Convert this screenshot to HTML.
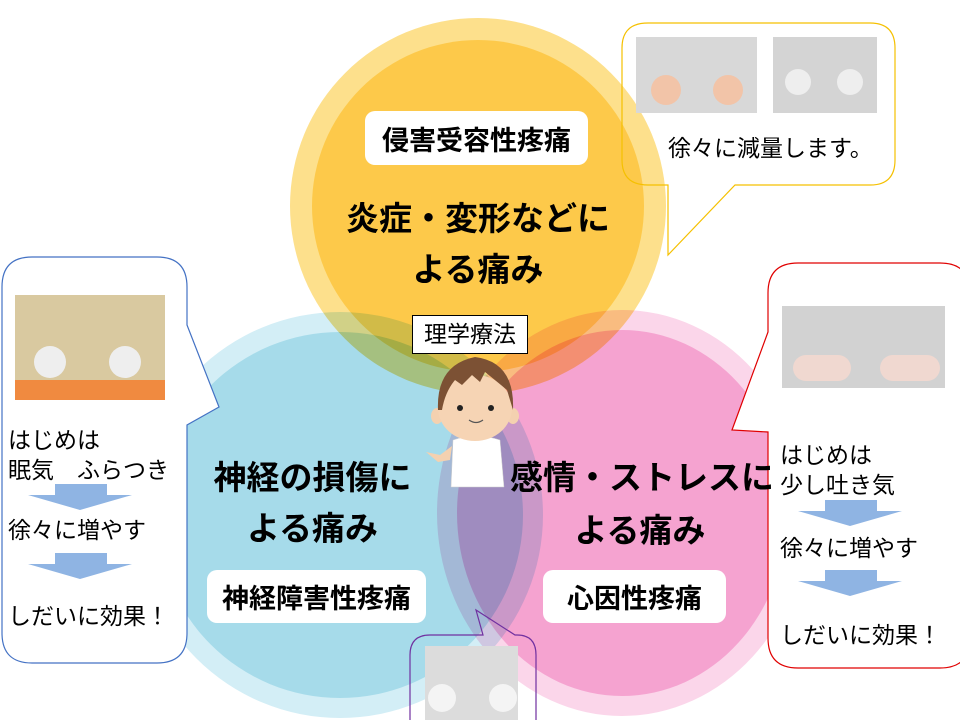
<!DOCTYPE html>
<html><head><meta charset="utf-8"><style>
html,body{margin:0;padding:0;background:#fff;width:960px;height:720px;overflow:hidden;position:relative;font-family:"Liberation Sans","Noto Sans CJK JP",sans-serif}
.t{position:absolute;white-space:nowrap;color:#000}
.b{font-weight:bold;font-family:"Liberation Sans","Noto Sans CJK JP",sans-serif}
.box{position:absolute;background:#fff;border-radius:10px;display:flex;align-items:center;justify-content:center;font-weight:bold;font-size:27px}
</style></head><body>
<svg width="960" height="720" style="position:absolute;left:0;top:0">
 <g style="mix-blend-mode:multiply"><circle cx="478" cy="206" r="188" fill="#fde08c"/><circle cx="478" cy="206" r="166" fill="#fdc94a"/></g>
 <g style="mix-blend-mode:multiply"><ellipse cx="340" cy="515" rx="203" ry="203" fill="#d3eef6"/><ellipse cx="340" cy="515" rx="183" ry="183" fill="#a6dbea"/></g>
 <g style="mix-blend-mode:multiply"><ellipse cx="622" cy="513" rx="185" ry="203" fill="#fbd6ea"/><ellipse cx="622" cy="513" rx="165" ry="183" fill="#f5a3d0"/></g>
 <path d="M648,23 H870 Q895,23 895,48 V160 Q895,185 870,185 H735 L668,255 V185 H648 Q622,185 622,160 V48 Q622,23 648,23Z" fill="none" stroke="#f5c000" stroke-width="1.2"/>
 <path d="M32,257 H157 Q187,257 187,287 V325 L219,407 L187,425 V633 Q187,663 157,663 H32 Q2,663 2,633 V287 Q2,257 32,257Z" fill="#fff" stroke="#4472c4" stroke-width="1.2"/>
 <path d="M798,263 H940 Q970,263 970,293 V638 Q970,668 940,668 H798 Q768,668 768,638 V432 L732,430 L768,332 V293 Q768,263 798,263Z" fill="#fff" stroke="#e00000" stroke-width="1.2"/>
 <path d="M430,635 H483 L476,610 L515,635 H517 Q536,635 536,655 V730 H410 V655 Q410,635 430,635Z" fill="none" stroke="#7030a0" stroke-width="1.2"/>
 <rect x="636" y="37" width="121" height="76" fill="#d8d8d8"/><circle cx="666" cy="90" r="15" fill="#f2c4a8"/><circle cx="728" cy="90" r="15" fill="#f2c4a8"/>
 <rect x="773" y="37" width="104" height="76" fill="#d4d4d4"/><circle cx="798" cy="82" r="13" fill="#eee"/><circle cx="850" cy="82" r="13" fill="#eee"/>
 <rect x="15" y="295" width="150" height="105" fill="#d9c9a0"/><rect x="15" y="380" width="150" height="20" fill="#f08a40"/><circle cx="50" cy="362" r="16" fill="#eee"/><circle cx="125" cy="362" r="16" fill="#eee"/>
 <rect x="782" y="306" width="163" height="82" fill="#d2d2d2"/><rect x="793" y="355" width="58" height="26" rx="13" fill="#f0d8d0"/><rect x="880" y="355" width="60" height="26" rx="13" fill="#f0d8d0"/>
 <rect x="425" y="646" width="93" height="74" fill="#dcdcdc"/><circle cx="442" cy="698" r="14" fill="#f4f4f4"/><circle cx="503" cy="698" r="14" fill="#f4f4f4"/>
 <g fill="#8fb4e3"><path d="M55,484 H107 V495 H132 L80,510 L28,495 H55Z"/><path d="M55,553 H107 V564 H132 L80,579 L28,564 H55Z"/>
 <path d="M825,500 H877 V511 H902 L850,526 L798,511 H825Z"/><path d="M825,570 H877 V581 H902 L850,596 L798,581 H825Z"/></g>
 <path d="M453,440 Q476,432 500,440 L504,487 H451Z" fill="#fff" stroke="#ccc" stroke-width="0.5"/>
 <path d="M426,452 L440,455 L452,446 L450,460 L438,462Z" fill="#f4d1b0"/>
 <ellipse cx="437" cy="416" rx="6" ry="8" fill="#f4d1b0"/><ellipse cx="513" cy="416" rx="6" ry="8" fill="#f4d1b0"/>
 <ellipse cx="475" cy="408" rx="37" ry="33" fill="#f6d4b4"/>
 <path d="M438,410 Q436,365 475,357 Q515,362 513,410 L507,390 Q495,380 485,372 L480,382 L472,375 L462,385 L455,380 Q445,392 442,410Z" fill="#7c5134"/>
 <circle cx="460" cy="408" r="3" fill="#222"/><circle cx="491" cy="408" r="3" fill="#222"/>
 <path d="M469,420 Q476,425 483,420" fill="none" stroke="#555" stroke-width="1.2"/>
</svg>
<div class="box" style="left:365px;top:111px;width:223px;height:54px">侵害受容性疼痛</div>
<div class="t b" style="left:300px;top:192px;width:356px;text-align:center;font-size:33px">炎症・変形などに</div>
<div class="t b" style="left:300px;top:243px;width:356px;text-align:center;font-size:33px">よる痛み</div>
<div class="t" style="left:412px;top:315px;width:114px;height:37px;border:1px solid #000;background:#fff;font-size:23px;line-height:37px;text-align:center">理学療法</div>
<div class="t b" style="left:190px;top:451px;width:245px;text-align:center;font-size:33px">神経の損傷に</div>
<div class="t b" style="left:190px;top:502px;width:245px;text-align:center;font-size:33px">よる痛み</div>
<div class="box" style="left:207px;top:570px;width:219px;height:53px">神経障害性疼痛</div>
<div class="t b" style="left:510px;top:451px;width:260px;text-align:center;font-size:33px">感情・ストレスに</div>
<div class="t b" style="left:510px;top:504px;width:260px;text-align:center;font-size:33px">よる痛み</div>
<div class="box" style="left:543px;top:570px;width:183px;height:53px">心因性疼痛</div>
<div class="t" style="left:668px;top:129px;font-size:23px">徐々に減量します。</div>
<div class="t" style="left:8px;top:425px;font-size:23px;line-height:30px">はじめは<br>眠気　ふらつき</div>
<div class="t" style="left:8px;top:511px;font-size:23px">徐々に増やす</div>
<div class="t" style="left:8px;top:597px;font-size:23px">しだいに効果！</div>
<div class="t" style="left:780px;top:440px;font-size:23px;line-height:30px">はじめは<br>少し吐き気</div>
<div class="t" style="left:780px;top:529px;font-size:23px">徐々に増やす</div>
<div class="t" style="left:780px;top:616px;font-size:23px">しだいに効果！</div>
</body></html>
